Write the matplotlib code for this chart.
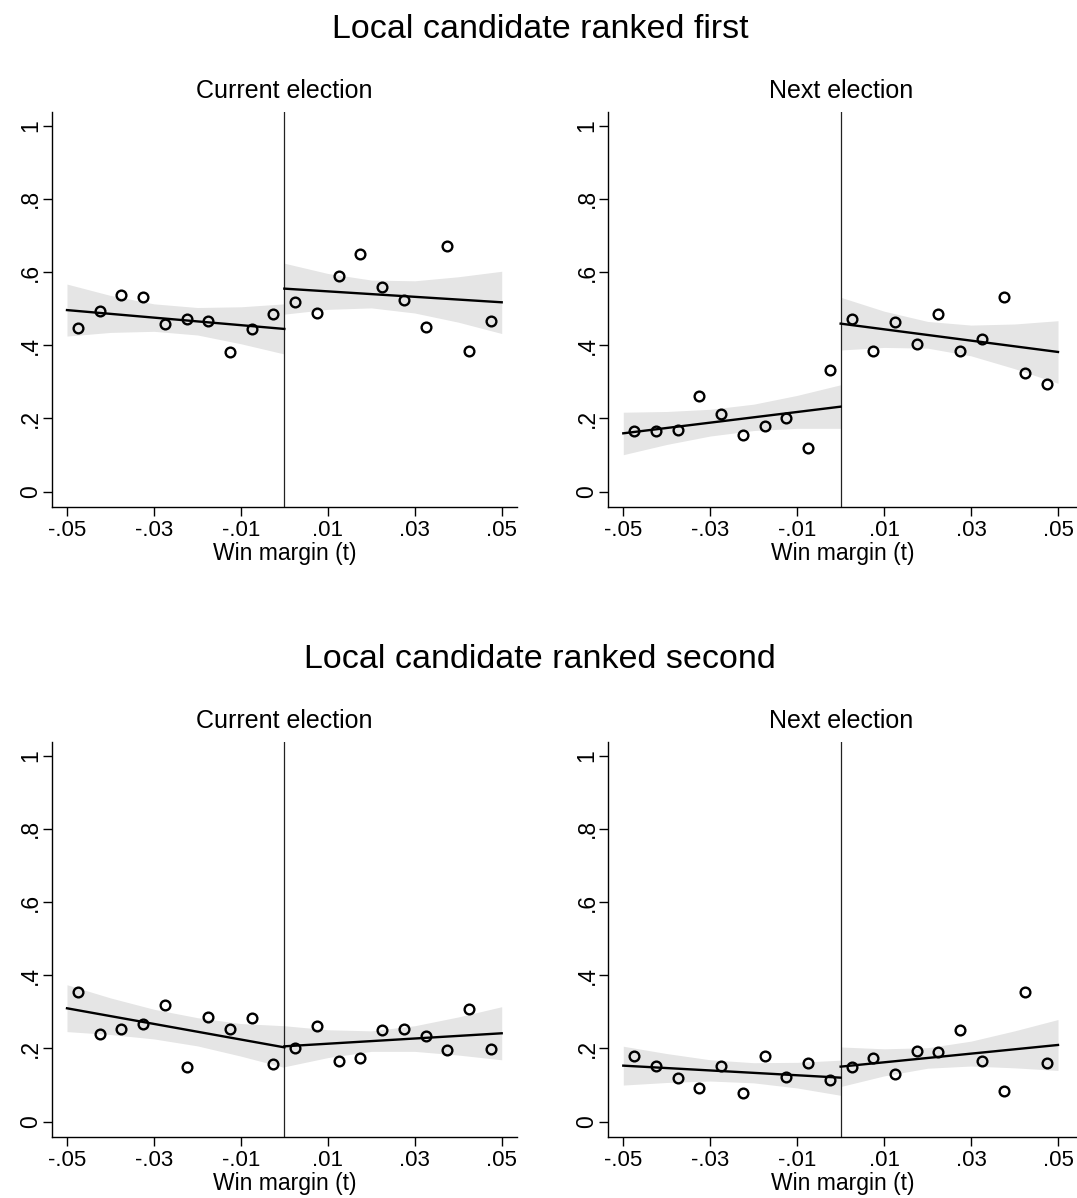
import matplotlib
matplotlib.use("Agg")
import matplotlib.pyplot as plt

plt.rcParams["font.family"] = ["Liberation Sans", "DejaVu Sans"]

# bin midpoints of the running variable
bins_left = [-0.0475, -0.0425, -0.0375, -0.0325, -0.0275, -0.0225, -0.0175, -0.0125, -0.0075, -0.0025]
bins_right = [0.0025, 0.0075, 0.0125, 0.0175, 0.0225, 0.0275, 0.0325, 0.0375, 0.0425, 0.0475]

# x grid where the confidence band was read
band_x_left = [-0.05, -0.04, -0.03, -0.02, -0.01, 0.0]
band_x_right = [0.0, 0.01, 0.02, 0.03, 0.04, 0.05]
fit_x_left = [-0.05, 0.0]
fit_x_right = [0.0, 0.05]

# Local candidate ranked first, current election
first_cur_left = [0.448, 0.494, 0.537, 0.531, 0.459, 0.471, 0.466, 0.381, 0.445, 0.485]
first_cur_right = [0.518, 0.489, 0.589, 0.649, 0.558, 0.524, 0.451, 0.671, 0.385, 0.467]
first_cur_fit_l = [0.496, 0.4445]
first_cur_fit_r = [0.5546, 0.5173]
first_cur_lo_l = [0.425, 0.435, 0.438, 0.428, 0.404, 0.376]
first_cur_hi_l = [0.567, 0.536, 0.513, 0.503, 0.505, 0.513]
first_cur_lo_r = [0.485, 0.498, 0.502, 0.488, 0.463, 0.432]
first_cur_hi_r = [0.624, 0.596, 0.578, 0.576, 0.587, 0.602]

# Local candidate ranked first, next election
first_next_left = [0.167, 0.167, 0.169, 0.260, 0.212, 0.156, 0.178, 0.200, 0.118, 0.333]
first_next_right = [0.473, 0.383, 0.464, 0.404, 0.485, 0.383, 0.417, 0.533, 0.324, 0.295]
first_next_fit_l = [0.1594, 0.2322]
first_next_fit_r = [0.459, 0.3816]
first_next_lo_l = [0.101, 0.129, 0.152, 0.167, 0.173, 0.173]
first_next_hi_l = [0.217, 0.219, 0.225, 0.239, 0.263, 0.292]
first_next_lo_r = [0.387, 0.394, 0.392, 0.371, 0.336, 0.296]
first_next_hi_r = [0.531, 0.493, 0.465, 0.455, 0.458, 0.467]

# Local candidate ranked second, current election
second_cur_left = [0.355, 0.240, 0.253, 0.266, 0.320, 0.148, 0.287, 0.252, 0.283, 0.158]
second_cur_right = [0.200, 0.261, 0.166, 0.173, 0.250, 0.253, 0.235, 0.195, 0.308, 0.199]
second_cur_fit_l = [0.3097, 0.203]
second_cur_fit_r = [0.2058, 0.2414]
second_cur_lo_l = [0.246, 0.238, 0.226, 0.207, 0.179, 0.148]
second_cur_hi_l = [0.374, 0.338, 0.307, 0.284, 0.268, 0.262]
second_cur_lo_r = [0.150, 0.175, 0.192, 0.192, 0.182, 0.169]
second_cur_hi_r = [0.262, 0.251, 0.248, 0.262, 0.286, 0.314]

# Local candidate ranked second, next election
second_next_left = [0.180, 0.153, 0.118, 0.092, 0.152, 0.078, 0.178, 0.123, 0.160, 0.114]
second_next_right = [0.148, 0.173, 0.129, 0.193, 0.190, 0.251, 0.166, 0.083, 0.353, 0.159]
second_next_fit_l = [0.153, 0.1202]
second_next_fit_r = [0.1503, 0.2095]
second_next_lo_l = [0.100, 0.107, 0.111, 0.106, 0.092, 0.072]
second_next_hi_l = [0.206, 0.186, 0.169, 0.161, 0.162, 0.168]
second_next_lo_r = [0.096, 0.125, 0.146, 0.152, 0.147, 0.140]
second_next_hi_r = [0.204, 0.199, 0.202, 0.220, 0.248, 0.279]

xticks = [-0.05, -0.03, -0.01, 0.01, 0.03, 0.05]
xtick_labels = ["-.05", "-.03", "-.01", ".01", ".03", ".05"]
yticks = [0, 0.2, 0.4, 0.6, 0.8, 1]
ytick_labels = ["0", ".2", ".4", ".6", ".8", "1"]

row_titles = ["Local candidate ranked first", "Local candidate ranked second"]
col_titles = ["Current election", "Next election"]

W, H = 1077, 1198
fig = plt.figure(figsize=(W / 100, H / 100), dpi=100)

band_color = "#e5e5e5"


def draw_panel(ax, left_y, right_y, fit_l, fit_r, lo_l, hi_l, lo_r, hi_r, xmax):
    ax.fill_between(band_x_left, lo_l, hi_l, color=band_color, lw=0, zorder=1)
    ax.fill_between(band_x_right, lo_r, hi_r, color=band_color, lw=0, zorder=1)
    ax.plot(fit_x_left, fit_l, color="black", lw=1.7, zorder=3)
    ax.plot(fit_x_right, fit_r, color="black", lw=1.7, zorder=3)
    ax.axvline(0, color="#222222", lw=0.9, zorder=2)
    ax.plot(bins_left, left_y, "o", ms=7, mfc="none", mec="black", mew=1.7, zorder=4)
    ax.plot(bins_right, right_y, "o", ms=7, mfc="none", mec="black", mew=1.7, zorder=4)

    ax.set_xlim(-0.05345, xmax)
    ax.set_ylim(-0.041, 1.038)
    ax.set_xticks(xticks)
    ax.set_xticklabels(xtick_labels, fontsize=16)
    ax.set_yticks(yticks)
    ax.set_yticklabels(ytick_labels, fontsize=16.5, rotation=90, va="center")
    ax.tick_params(direction="out", length=6.5, width=1.0, color="black")
    ax.tick_params(axis="x", pad=3)
    ax.tick_params(axis="y", pad=0.5)
    ax.set_xlabel("Win margin (t)", fontsize=16.5, labelpad=1)
    for side in ["top", "right"]:
        ax.spines[side].set_visible(False)
    for side in ["left", "bottom"]:
        ax.spines[side].set_linewidth(1.0)


panels = [
    [(first_cur_left, first_cur_right, first_cur_fit_l, first_cur_fit_r,
      first_cur_lo_l, first_cur_hi_l, first_cur_lo_r, first_cur_hi_r),
     (first_next_left, first_next_right, first_next_fit_l, first_next_fit_r,
      first_next_lo_l, first_next_hi_l, first_next_lo_r, first_next_hi_r)],
    [(second_cur_left, second_cur_right, second_cur_fit_l, second_cur_fit_r,
      second_cur_lo_l, second_cur_hi_l, second_cur_lo_r, second_cur_hi_r),
     (second_next_left, second_next_right, second_next_fit_l, second_next_fit_r,
      second_next_lo_l, second_next_hi_l, second_next_lo_r, second_next_hi_r)],
]

# pixel layout of the axes boxes
col_left = [52, 608.3]
col_width = [464.7, 468.7]
col_xmax = [0.05345, 0.05437]
row_bottom = [506.67, 1136.67]
ax_height = 395
row_shift = 630

for r in range(2):
    fig.text(540 / W, 1 - (29 + r * row_shift) / H, row_titles[r],
             ha="center", va="center", fontsize=24.5)
    for c in range(2):
        ax = fig.add_axes([col_left[c] / W, 1 - row_bottom[r] / H,
                           col_width[c] / W, ax_height / H])
        draw_panel(ax, *panels[r][c], col_xmax[c])
        cx = (col_left[c] + 232.35) / W
        fig.text(cx, 1 - (90.7 + r * row_shift) / H, col_titles[c],
                 ha="center", va="center", fontsize=18)

fig.savefig("out.png", dpi=100)
plt.close(fig)
